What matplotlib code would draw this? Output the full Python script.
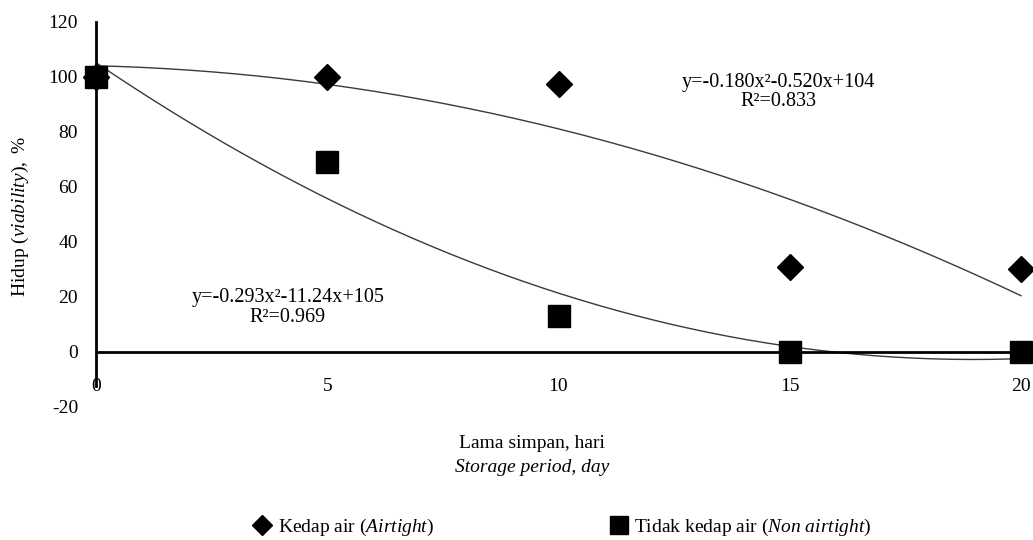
import numpy as np
import matplotlib
matplotlib.use('Agg')
import matplotlib.pyplot as plt

plt.rcParams['font.family'] = ['Liberation Serif', 'DejaVu Serif']
plt.rcParams['mathtext.fontset'] = 'custom'
plt.rcParams['mathtext.rm'] = 'Liberation Serif'
plt.rcParams['mathtext.it'] = 'Liberation Serif:italic'
plt.rcParams['axes.unicode_minus'] = False

# storage period (days)
days = [0, 5, 10, 15, 20]
# viability %
airtight = [100, 100, 97.5, 31, 30]
non_airtight = [100, 69, 13, 0, 0]

yticks = [-20, 0, 20, 40, 60, 80, 100, 120]
xticks = [0, 5, 10, 15, 20]

eq_air = 'y=-0.180x²-0.520x+104\nR²=0.833'
eq_non = 'y=-0.293x²-11.24x+105\nR²=0.969'

fig = plt.figure(figsize=(10.33, 5.4), dpi=100)
ax = fig.add_axes([0.093, 0.2463, 0.907, 0.713])

# quadratic trendlines fitted to the points
xx = np.linspace(0, 20, 200)
c_air = np.polyfit(days, airtight, 2)
c_non = np.polyfit(days, non_airtight, 2)
ax.plot(xx, np.polyval(c_air, xx), color='#3a3a3a', lw=1.0, zorder=2)
ax.plot(xx, np.polyval(c_non, xx), color='#3a3a3a', lw=1.0, zorder=2)

ax.plot(days, airtight, 'D', color='black', markersize=13, ls='none', clip_on=False,
        label='Kedap air ($\\it{Airtight)}$', zorder=4)
ax.plot(days, non_airtight, 's', color='black', markersize=16.5, ls='none', clip_on=False,
        label='Tidak kedap air ($\\it{Non\\ airtight)}$', zorder=5)

ax.axhline(0, color='black', lw=2, zorder=3)

ax.set_xlim(0, 20.26)
ax.set_ylim(-20, 120)
for s in ['top', 'right', 'bottom']:
    ax.spines[s].set_visible(False)
ax.spines['left'].set_linewidth(2)
ax.spines['left'].set_bounds(-12.5, 120)

ax.set_yticks(yticks)
ax.set_xticks(xticks)
ax.tick_params(axis='y', length=0, pad=13, labelsize=14)
ax.tick_params(axis='x', length=0, pad=-21, labelsize=14)

ax.text(14.75, 94.5, eq_air, ha='center', va='center', fontsize=14.5, linespacing=1.05)
ax.text(4.15, 16.2, eq_non, ha='center', va='center', fontsize=14.5, linespacing=1.05)

fig.text(20 / 1033, 1 - 217 / 540, 'Hidup $\\it{(viability),}$ %', rotation=90,
         ha='center', va='center', fontsize=14)
fig.text(532 / 1033, 1 - 443 / 540, 'Lama simpan, hari', ha='center', va='center', fontsize=14)
fig.text(532 / 1033, 1 - 467 / 540, 'Storage period, day', ha='center', va='center',
         fontsize=14, style='italic')

fig.legend(loc='center', bbox_to_anchor=(562 / 1033, 1 - 527 / 540), ncol=2, frameon=False,
           fontsize=14, handlelength=1.0, handletextpad=0.3, columnspacing=9,
           markerscale=0.75)

fig.savefig('out.png', dpi=100)
